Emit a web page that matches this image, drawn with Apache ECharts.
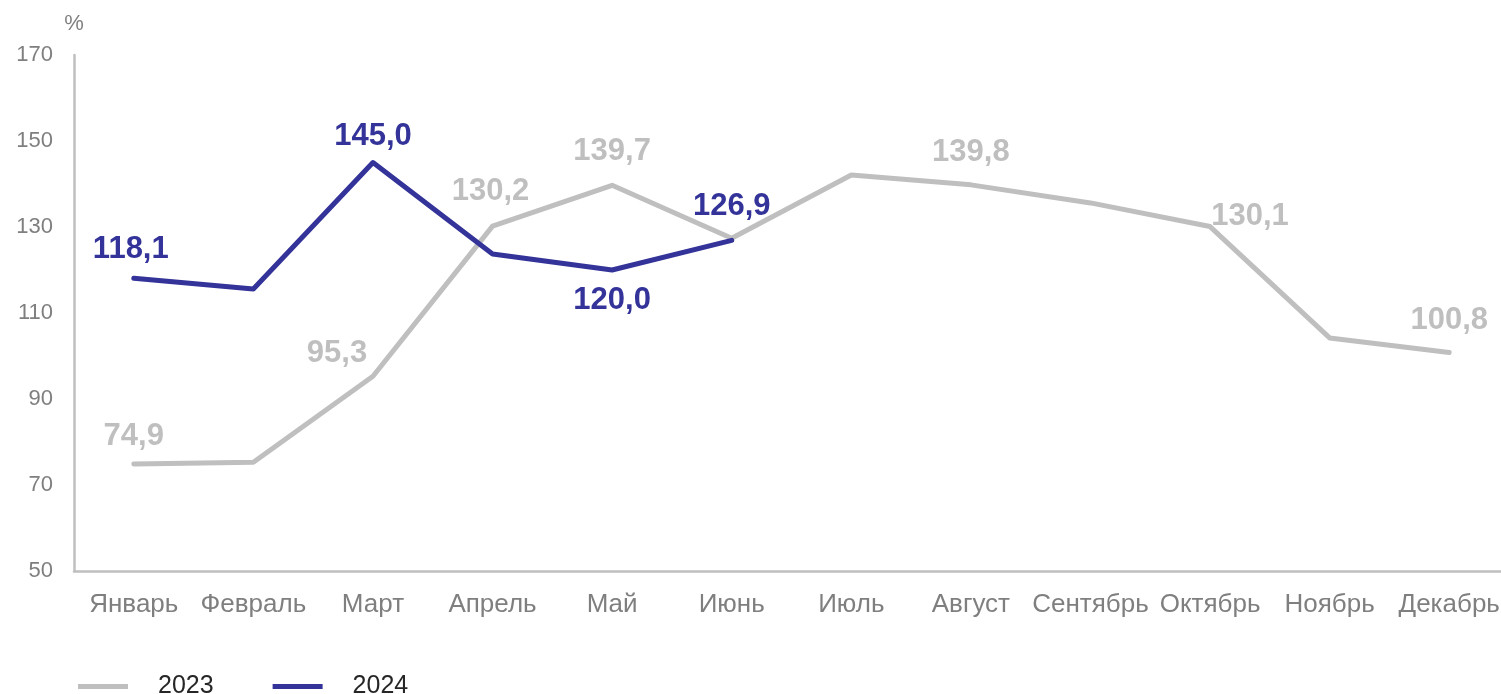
<!DOCTYPE html>
<html>
<head>
<meta charset="utf-8">
<script src="https://cdn.jsdelivr.net/npm/echarts@6/dist/echarts.min.js"></script>
<style>
html,body{margin:0;padding:0;background:#fff;}
#chart{width:1501px;height:694px;}
</style>
</head>
<body>
<div id="chart"></div>
<script>
const categories = ['Январь','Февраль','Март','Апрель','Май','Июнь','Июль','Август','Сентябрь','Октябрь','Ноябрь','Декабрь'];
const values2023 = [74.9, 75.3, 95.3, 130.2, 139.7, 127.4, 142.1, 139.8, 135.6, 130.1, 104.2, 100.8];
const values2024 = [118.1, 115.6, 145.0, 123.7, 120.0, 126.9];
const seriesNames = ['2023', '2024'];

// label placement (style only): index -> [position, dx, dy]
const labels2023 = {0:['top',0,-7], 2:['top',-36,-2], 3:['top',-2,-14], 4:['top',0,-13], 7:['top',0,-12], 9:['top',40,10], 11:['top',0,-12]};
const labels2024 = {0:['top',-3,-8], 2:['top',0,-5], 4:['bottom',0,10], 5:['top',0,-13]};

const FONT = '"Liberation Sans", Arial, sans-serif';
const GRAY = '#BFBFBF';
const BLUE = '#333399';

function fmt(v){ return v.toFixed(1).replace('.', ','); }

function buildData(vals, labelMap, color){
  return vals.map((v, i) => {
    const item = { value: v };
    if (labelMap[i]) {
      const [pos, dx, dy] = labelMap[i];
      item.label = {
        show: true, position: pos, distance: 5, offset: [dx, dy],
        formatter: p => fmt(p.value),
        color: color, fontFamily: FONT, fontWeight: 'bold', fontSize: 31
      };
    } else {
      item.label = { show: false };
    }
    return item;
  });
}

const chart = echarts.init(document.getElementById('chart'), null, {renderer: 'canvas'});
chart.setOption({
  animation: false,
  backgroundColor: '#fff',
  grid: { left: 74, top: 55, height: 516, width: 1435, containLabel: false, outerBoundsMode: 'none' },
  legend: {
    left: 73, top: 669,
    itemWidth: 50, itemHeight: 5, itemGap: 59,
    icon: 'rect',
    textStyle: { fontFamily: FONT, fontSize: 25, color: '#262626', padding: [0,0,0,25] },
    data: seriesNames
  },
  xAxis: {
    type: 'category', data: categories, boundaryGap: true,
    axisLine: { lineStyle: { color: GRAY, width: 2.5 } },
    axisTick: { show: false },
    axisLabel: { color: '#7F7F7F', fontFamily: FONT, fontSize: 26, margin: 21, interval: 0 },
    splitLine: { show: false }
  },
  yAxis: {
    type: 'value', min: 50, max: 170, interval: 20,
    name: '%', nameLocation: 'end', nameGap: 20,
    nameTextStyle: { color: '#7F7F7F', fontFamily: FONT, fontSize: 22, align: 'center' },
    axisLine: { show: true, lineStyle: { color: GRAY, width: 2.5 } },
    axisTick: { show: false },
    axisLabel: { color: '#7F7F7F', fontFamily: FONT, fontSize: 22, margin: 21 },
    splitLine: { show: false }
  },
  series: [
    {
      name: seriesNames[0], type: 'line', data: buildData(values2023, labels2023, GRAY),
      showSymbol: true, symbol: 'circle', symbolSize: 0.1, z: 2,
      lineStyle: { color: GRAY, width: 5, cap: 'round', join: 'round' },
      itemStyle: { color: GRAY }
    },
    {
      name: seriesNames[1], type: 'line', data: buildData(values2024, labels2024, BLUE),
      showSymbol: true, symbol: 'circle', symbolSize: 0.1, z: 3,
      lineStyle: { color: BLUE, width: 5, cap: 'round', join: 'round' },
      itemStyle: { color: BLUE }
    }
  ]
});
</script>
</body>
</html>
